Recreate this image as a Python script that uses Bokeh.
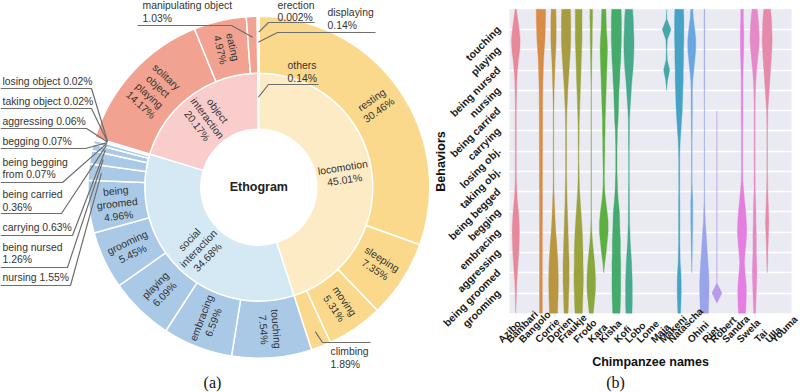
import math
from bokeh.plotting import figure
from bokeh.layouts import row
from bokeh.models import Range1d, FixedTicker, Label, LabelSet, ColumnDataSource, Grid
from bokeh.embed import file_html
from bokeh.resources import INLINE
from bokeh.core.properties import value

# ---------------- data: ethogram sunburst (percent of all observations) ----------------
group_names = ["locomotion", "social interaction", "object interaction", "others"]
group_pct = [45.01, 34.68, 20.17, 0.14]

locomotion_names = ["resting", "sleeping", "moving", "climbing"]
locomotion_pct = [30.46, 7.35, 5.31, 1.89]
social_names = ["touching", "embracing", "playing", "grooming", "being groomed", "nursing",
                "being nursed", "carrying", "being carried", "being begging from", "begging",
                "aggressing", "taking object", "losing object"]
social_pct = [7.54, 6.59, 6.09, 5.45, 4.96, 1.55, 1.26, 0.63, 0.36, 0.07, 0.07, 0.06, 0.02, 0.02]
object_names = ["solitary object playing", "eating", "manipulating object"]
object_pct = [14.17, 4.97, 1.03]
others_names = ["displaying", "erection"]
others_pct = [0.14, 0.002]

# ---------------- data: violin plot ----------------
behaviors = ["touching", "playing", "being nursed", "nursing", "being carried", "carrying",
             "losing obj.", "taking obj.", "being begged", "begging", "embracing",
             "aggressing", "being groomed", "grooming"]
chimps = ["Azibo", "Bambari", "Bangolo", "Corrie", "Dorien", "Fraukje", "Frodo", "Kara",
          "Kisha", "Kofi", "Lobo", "Lome", "Maja", "Makeni", "Natascha", "Ohini", "Riet",
          "Robert", "Sandra", "Swela", "Tai", "Ulla", "Youma"]
# behaviour axis positions where violin widths were read (half-category steps)
violin_levels = [-1, -0.5, 0, 0.5, 1, 1.5, 2, 2.5, 3, 3.5, 4, 4.5, 5, 5.5, 6, 6.5, 7, 7.5,
                 8, 8.5, 9, 9.5, 10, 10.5, 11, 11.5, 12, 12.5, 13, 13.5, 14]
# violin full widths (fraction of a category slot) at those levels
azibo_w = [0.10, 0.32, 0.53, 0.69, 0.64, 0.42, 0.27, 0.16, 0.13, 0.10, 0.08, 0.08, 0.08, 0.08, 0.08, 0.08,
           0.08, 0.10, 0.16, 0.27, 0.42, 0.53, 0.58, 0.53, 0.48, 0.37, 0.27, 0.16, 0.10, 0.06, 0.0]
bangolo_w = [0.74, 0.74, 0.69, 0.64, 0.53, 0.42, 0.37, 0.32, 0.29, 0.27, 0.27, 0.26, 0.26, 0.25, 0.25, 0.24,
             0.24, 0.24, 0.23, 0.23, 0.23, 0.23, 0.22, 0.22, 0.22, 0.22, 0.22, 0.22, 0.22, 0.22, 0.22]
corrie_w = [0.37, 0.42, 0.42, 0.42, 0.37, 0.27, 0.21, 0.16, 0.10, 0.08, 0.05, 0.05, 0.05, 0.05, 0.05, 0.05,
            0.05, 0.06, 0.08, 0.14, 0.21, 0.27, 0.37, 0.50, 0.60, 0.70, 0.74, 0.76, 0.74, 0.69, 0.64]
dorien_w = [0.69, 0.74, 0.74, 0.74, 0.69, 0.58, 0.48, 0.37, 0.27, 0.21, 0.13, 0.10, 0.08, 0.08, 0.08, 0.08,
            0.08, 0.10, 0.13, 0.16, 0.21, 0.27, 0.32, 0.37, 0.42, 0.48, 0.48, 0.48, 0.42, 0.37, 0.32]
fraukje_w = [0.53, 0.53, 0.53, 0.53, 0.48, 0.42, 0.37, 0.32, 0.27, 0.21, 0.16, 0.10, 0.08, 0.08, 0.05, 0.05,
             0.08, 0.10, 0.16, 0.27, 0.37, 0.48, 0.58, 0.64, 0.69, 0.69, 0.74, 0.74, 0.69, 0.64, 0.58]
frodo_w = [0.21, 0.21, 0.16, 0.16, 0.13, 0.10, 0.08, 0.05, 0.03, 0.03, 0.03, 0.03, 0.03, 0.03, 0.03, 0.03,
           0.03, 0.03, 0.03, 0.03, 0.03, 0.05, 0.10, 0.21, 0.37, 0.53, 0.64, 0.69, 0.64, 0.48, 0.32]
kara_w = [0.32, 0.37, 0.42, 0.53, 0.58, 0.53, 0.48, 0.42, 0.37, 0.32, 0.27, 0.21, 0.21, 0.16, 0.16, 0.13,
          0.10, 0.10, 0.16, 0.32, 0.53, 0.69, 0.69, 0.53, 0.37, 0.16, 0.0, 0.0, 0.0, 0.0, 0.0]
kisha_w = [0.74, 0.80, 0.80, 0.80, 0.74, 0.69, 0.58, 0.53, 0.42, 0.37, 0.32, 0.27, 0.16, 0.13, 0.10, 0.10,
           0.10, 0.16, 0.21, 0.32, 0.48, 0.53, 0.58, 0.64, 0.64, 0.69, 0.69, 0.69, 0.69, 0.64, 0.58]
kofi_w = [0.58, 0.69, 0.74, 0.80, 0.80, 0.74, 0.64, 0.48, 0.37, 0.27, 0.16, 0.10, 0.08, 0.08, 0.05, 0.05,
          0.05, 0.05, 0.08, 0.08, 0.10, 0.10, 0.16, 0.21, 0.32, 0.42, 0.48, 0.53, 0.53, 0.53, 0.48]
maja_w = [0.0, 0.06, 0.69, 0.12, 0.05, 0.10, 0.48, 0.15, 0.0, 0.0, 0.0, 0.0, 0.0, 0.0, 0.0, 0.0,
          0.0, 0.0, 0.0, 0.0, 0.0, 0.0, 0.0, 0.0, 0.0, 0.0, 0.0, 0.0, 0.0, 0.0, 0.0]
makeni_w = [0.69, 0.74, 0.74, 0.74, 0.69, 0.69, 0.64, 0.64, 0.58, 0.53, 0.48, 0.37, 0.27, 0.16, 0.10, 0.08,
            0.08, 0.08, 0.08, 0.10, 0.10, 0.10, 0.10, 0.10, 0.13, 0.16, 0.27, 0.32, 0.32, 0.27, 0.21]
natascha_w = [0.16, 0.27, 0.48, 0.64, 0.64, 0.48, 0.32, 0.16, 0.10, 0.10, 0.10, 0.08, 0.08, 0.05, 0.05, 0.05,
              0.05, 0.05, 0.10, 0.16, 0.16, 0.16, 0.13, 0.10, 0.08, 0.04, 0.0, 0.0, 0.0, 0.0, 0.0]
ohini_w = [0.05, 0.05, 0.05, 0.05, 0.05, 0.05, 0.05, 0.05, 0.04, 0.03, 0.03, 0.03, 0.03, 0.03, 0.03, 0.03,
           0.03, 0.03, 0.03, 0.05, 0.10, 0.16, 0.27, 0.37, 0.48, 0.58, 0.69, 0.74, 0.74, 0.69, 0.64]
riet_w = [0.0, 0.0, 0.0, 0.0, 0.0, 0.0, 0.0, 0.0, 0.0, 0.0, 0.0, 0.02, 0.02, 0.02, 0.02, 0.02,
          0.02, 0.02, 0.02, 0.02, 0.02, 0.02, 0.02, 0.02, 0.02, 0.02, 0.02, 0.02, 0.80, 0.0, 0.0]
sandra_w = [0.21, 0.21, 0.27, 0.27, 0.27, 0.21, 0.16, 0.13, 0.13, 0.13, 0.13, 0.13, 0.10, 0.10, 0.10, 0.10,
            0.10, 0.13, 0.27, 0.42, 0.58, 0.69, 0.74, 0.64, 0.48, 0.37, 0.48, 0.64, 0.69, 0.64, 0.58]
swela_w = [0.42, 0.58, 0.69, 0.74, 0.64, 0.48, 0.32, 0.21, 0.13, 0.10, 0.08, 0.08, 0.08, 0.08, 0.08, 0.08,
           0.08, 0.10, 0.10, 0.16, 0.21, 0.21, 0.27, 0.27, 0.27, 0.32, 0.37, 0.32, 0.27, 0.21, 0.16]
tai_w = [0.53, 0.69, 0.74, 0.80, 0.74, 0.64, 0.53, 0.42, 0.32, 0.21, 0.10, 0.08, 0.05, 0.05, 0.05, 0.05,
         0.05, 0.08, 0.10, 0.16, 0.21, 0.27, 0.21, 0.16, 0.10, 0.08, 0.0, 0.0, 0.0, 0.0, 0.0]

violin_widths = {"Azibo": azibo_w, "Bangolo": bangolo_w, "Corrie": corrie_w, "Dorien": dorien_w,
                 "Fraukje": fraukje_w, "Frodo": frodo_w, "Kara": kara_w, "Kisha": kisha_w,
                 "Kofi": kofi_w, "Maja": maja_w, "Makeni": makeni_w, "Natascha": natascha_w,
                 "Ohini": ohini_w, "Riet": riet_w, "Sandra": sandra_w, "Swela": swela_w, "Tai": tai_w}

# ---------------- styles ----------------
SANS = "Liberation Sans"
SERIF = "Liberation Serif"
TXT = "#333333"
inner_colors = ["#fdebc6", "#d4e9f3", "#f8cdcc", "#efe3cf"]
outer_colors = ["#fbd98c", "#a9c9e7", "#f1a290", "#efe3cf"]
violin_colors = {"Azibo": "#e8899b", "Bangolo": "#d98c46", "Corrie": "#bb9640", "Dorien": "#a99b41",
                 "Fraukje": "#9ba33c", "Frodo": "#86a83c", "Kara": "#5daf3f", "Kisha": "#45ab6c",
                 "Kofi": "#48aa8d", "Maja": "#46a7a9", "Makeni": "#46a3c6", "Natascha": "#6aa7e0",
                 "Ohini": "#9aa4ea", "Riet": "#b99ce9", "Sandra": "#e47fe0", "Swela": "#e58ac8",
                 "Tai": "#e68aab"}

# page layout (pixels; the Bokeh page has no body margin, frames fill each canvas)
H = 392
L_W = 430
R_W = 800 - L_W
CX, CY = 258.3, 186.7         # sunburst centre
R0, R1, R2 = 58, 114, 171     # ring radii


def X(px):
    return px - CX


def Y(py):
    return CY - py


def bk_angle(theta_deg):
    """clockwise-from-top degrees -> bokeh radians"""
    return math.radians(90 - theta_deg)


def pct_str(v):
    return f"{v:.3f}%" if v < 0.01 else f"{v:.2f}%"


def radial_text_angle(theta_deg):
    a = 90 - theta_deg
    if theta_deg > 180:
        a += 180
    return math.radians(a)


def polar(theta_deg, r):
    t = math.radians(theta_deg)
    return r * math.sin(t), r * math.cos(t)


# ================= left: sunburst =================
left = figure(width=L_W, height=H, x_range=Range1d(X(0), X(L_W)),
              y_range=Range1d(Y(H), Y(0)), output_backend="svg", toolbar_location=None,
              x_axis_location=None, y_axis_location=None, min_border=0,
              outline_line_color=None, background_fill_color="white", border_fill_color="white")
left.xgrid.visible = False
left.ygrid.visible = False

children_names = [locomotion_names, social_names, object_names, others_names]
children_pct = [locomotion_pct, social_pct, object_pct, others_pct]

inner = dict(s=[], e=[], c=[])
outer = dict(s=[], e=[], c=[])
lab = dict(x=[], y=[], text=[], angle=[])
mid_theta = {}
start = 0.0
for gi, (gname, gp) in enumerate(zip(group_names, group_pct)):
    t0, t1 = start * 3.6, (start + gp) * 3.6
    inner["s"].append(bk_angle(t1)); inner["e"].append(bk_angle(t0)); inner["c"].append(inner_colors[gi])
    tm = (t0 + t1) / 2
    mid_theta["group:" + gname] = tm
    if gp >= 10:
        x, y = polar(tm, (R0 + R1) / 2)
        lab["x"].append(x); lab["y"].append(y)
        lab["text"].append("\n".join(gname.split(" ") + [pct_str(gp)]))
        lab["angle"].append(radial_text_angle(tm))
    cs = start
    for cname, cp in zip(children_names[gi], children_pct[gi]):
        c0, c1 = cs * 3.6, (cs + cp) * 3.6
        outer["s"].append(bk_angle(c1)); outer["e"].append(bk_angle(c0)); outer["c"].append(outer_colors[gi])
        cm = (c0 + c1) / 2
        mid_theta[cname] = cm
        if cp >= 4:
            x, y = polar(cm, (R1 + R2) / 2)
            lab["x"].append(x); lab["y"].append(y)
            lab["text"].append("\n".join(cname.split(" ") + [pct_str(cp)]))
            lab["angle"].append(radial_text_angle(cm))
        cs += cp
    start += gp

left.annular_wedge(x=0, y=0, inner_radius=R0, outer_radius=R1, start_angle="s", end_angle="e",
                   fill_color="c", line_color="white", line_width=1.5,
                   source=ColumnDataSource(inner))
left.annular_wedge(x=0, y=0, inner_radius=R1, outer_radius=R2, start_angle="s", end_angle="e",
                   fill_color="c", line_color="white", line_width=1.5,
                   source=ColumnDataSource(outer))
left.text(x="x", y="y", text="text", angle="angle", source=ColumnDataSource(lab),
          text_align="center", text_baseline="middle", text_font=value(SANS),
          text_font_size="10.4px", text_color=TXT, text_line_height=1.15)
left.text(x=[0], y=[0], text=["Ethogram"], text_align="center", text_baseline="middle",
          text_font=value(SANS), text_font_style="bold", text_font_size="12.5px", text_color="#222222")

# callout labels (layout in page pixels): name, text x, text y, rule y, rule x0, rule x1,
# end the leader starts from, leader radius, words on first line (None = single line)
callouts = [
    ("losing object", 2, 81, 88, 0, 91, "r", 158, None),
    ("taking object", 2, 101, 108, 0, 91, "r", 158, None),
    ("aggressing", 2, 121, 128, 0, 86, "r", 158, None),
    ("begging", 2, 141, 148, 0, 85, "r", 158, None),
    ("being begging from", 2, 168, 182, 0, 62, "r", 158, 2),
    ("being carried", 2, 200.5, 213, 0, 61, "r", 158, 2),
    ("carrying", 2, 227, 235, 0, 72, "r", 158, None),
    ("being nursed", 2, 253, 267, 0, 67, "r", 158, 2),
    ("nursing", 2, 277, 285, 0, 70, "r", 158, None),
    ("manipulating object", 142, 11.5, 25, 137, 231, "r", 150, 2),
    ("erection", 277, 11, 22, 268, 314, "l", 155, 1),
    ("displaying", 327, 18.5, 32, 277, 375, "l", 145, 1),
    ("group:others", 287, 71.5, 84, 268, 318, "l", 90, 1),
    ("climbing", 330, 357.5, 342, 322, 370, "l", 155, 1),
]
pct_lookup = {}
for names, pcts in zip(children_names, children_pct):
    for n, v in zip(names, pcts):
        pct_lookup[n] = v
for n, v in zip(group_names, group_pct):
    pct_lookup["group:" + n] = v

co_text = dict(x=[], y=[], text=[])
co_lines = dict(xs=[], ys=[])
for name, tx, ty, ly, lx0, lx1, side, rr, first in callouts:
    label = name.replace("group:", "")
    words = label.split(" ") + [pct_str(pct_lookup[name])]
    if first is None:
        txt = " ".join(words)
    else:
        txt = " ".join(words[:first]) + "\n" + " ".join(words[first:])
    co_text["x"].append(X(tx)); co_text["y"].append(Y(ty)); co_text["text"].append(txt)
    px, py = polar(mid_theta[name], rr)
    if side == "r":
        xs = [X(lx0), X(lx1), px]
        ys = [Y(ly), Y(ly), py]
    else:
        xs = [px, X(lx0), X(lx1)]
        ys = [py, Y(ly), Y(ly)]
    co_lines["xs"].append(xs); co_lines["ys"].append(ys)

left.multi_line(xs="xs", ys="ys", source=ColumnDataSource(co_lines), line_color="#6e6e6e", line_width=1.2)
left.text(x="x", y="y", text="text", source=ColumnDataSource(co_text), text_align="left",
          text_baseline="middle", text_font=value(SANS), text_font_size="10.4px",
          text_color=TXT, text_line_height=1.15)
left.text(x=[X(212)], y=[Y(382)], text=["(a)"], text_align="center", text_baseline="middle",
          text_font=value(SERIF), text_font_size="16px", text_color="#111111")

# ================= right: violin plot =================
# violin axes area spans page x 509..791, y 9..313; slot = 12.57 px, behaviour step = 20.27 px
SLOT, STEP = 12.57, 20.27
X0_PX, Y0_PX = 515.3, 29.0    # page position of chimp 0 / behaviour 0


def DX(px):
    return (px - X0_PX) / SLOT


def DY(py):
    return (py - Y0_PX) / STEP


XLIM = (-0.5, DX(791))
YLIM = (-1, 14)
right = figure(width=R_W, height=H, x_range=Range1d(DX(L_W), DX(800)), y_range=Range1d(DY(H), DY(0)),
               output_backend="svg", toolbar_location=None, x_axis_location=None,
               y_axis_location=None, min_border=0, background_fill_color="white",
               outline_line_color=None, border_fill_color="white")
right.xgrid.visible = False
right.ygrid.visible = False
bg = right.quad(left=[XLIM[0]], right=[XLIM[1]], top=[YLIM[0]], bottom=[YLIM[1]],
                fill_color="#eaeaf2", line_color=None)
bg.level = "image"
right.add_layout(Grid(dimension=1, ticker=FixedTicker(ticks=list(range(len(behaviors)))),
                      bounds=XLIM, grid_line_color="white", grid_line_width=1.3))

vx, vy, vc = [], [], []
for i, name in enumerate(chimps):
    if name not in violin_widths:
        continue
    w = violin_widths[name]
    nz = [j for j, v in enumerate(w) if v > 0]
    j0, j1 = max(nz[0] - 1, 0), min(nz[-1] + 1, len(w) - 1)
    idx = list(range(j0, j1 + 1))
    xs = [i + w[j] / 2 for j in idx] + [i - w[j] / 2 for j in reversed(idx)]
    ys = [violin_levels[j] for j in idx] + [violin_levels[j] for j in reversed(idx)]
    vx.append(xs); vy.append(ys); vc.append(violin_colors[name])
right.patches(xs="xs", ys="ys", source=ColumnDataSource(dict(xs=vx, ys=vy, c=vc)),
              fill_color="c", line_color="c", line_width=0.6, line_alpha=0.6)

# behaviour tick labels: right end anchored just left of the axes, rotated 45 degrees
YFS = 10.5
yl = dict(x=[DX(498)] * len(behaviors), y=[i - 2 / STEP for i in range(len(behaviors))], text=behaviors)
right.add_layout(LabelSet(x="x", y="y", text="text", source=ColumnDataSource(yl), angle=math.pi / 4,
                          text_align="right", text_baseline="middle", text_font=value(SANS),
                          text_font_style="bold", text_font_size=f"{YFS}px", text_color="#1a1a1a"))

# chimp tick labels, centred under each slot boundary (rotated 45 degrees)
XFS = 10.0
BOLD_W = {"A": .722, "B": .722, "C": .722, "D": .722, "F": .611, "K": .722, "L": .611, "M": .833,
          "N": .722, "O": .778, "R": .722, "S": .667, "T": .611, "U": .722, "Y": .667, "a": .556,
          "b": .611, "c": .556, "d": .611, "e": .556, "f": .333, "g": .611, "h": .611, "i": .278,
          "j": .278, "k": .556, "l": .278, "m": .889, "n": .611, "o": .611, "r": .389, "s": .556,
          "t": .333, "u": .611, "w": .778, "z": .5, ".": .278}
xl = dict(x=[], y=[], text=[])
for k, name in enumerate(chimps):
    L = sum(BOLD_W.get(ch, 0.6) for ch in name) * XFS
    half = (L + XFS) * 0.3535
    cy = 344 - half
    cx = min(k - 0.5, DX(799 - half))      # keep the last label inside the page
    xl["x"].append(cx); xl["y"].append(DY(cy)); xl["text"].append(name)
right.add_layout(LabelSet(x="x", y="y", text="text", source=ColumnDataSource(xl), angle=math.pi / 4,
                          text_align="center", text_baseline="middle", text_font=value(SANS),
                          text_font_style="bold", text_font_size=f"{XFS}px", text_color="#1a1a1a"))

right.add_layout(Label(x=DX(650), y=DY(361), text="Chimpanzee names", text_align="center",
                       text_baseline="middle", text_font=SANS, text_font_style="bold",
                       text_font_size="12.5px", text_color="#111111"))
right.add_layout(Label(x=DX(440), y=DY(161), text="Behaviors", angle=math.pi / 2, text_align="center",
                       text_baseline="middle", text_font=SANS, text_font_style="bold",
                       text_font_size="12.5px", text_color="#111111"))
right.add_layout(Label(x=DX(615), y=DY(382), text="(b)", text_align="center", text_baseline="middle",
                       text_font=SERIF, text_font_size="16px", text_color="#111111"))

layout = row(left, right)
open("out.html", "w").write(file_html(layout, INLINE, "Ethogram"))
